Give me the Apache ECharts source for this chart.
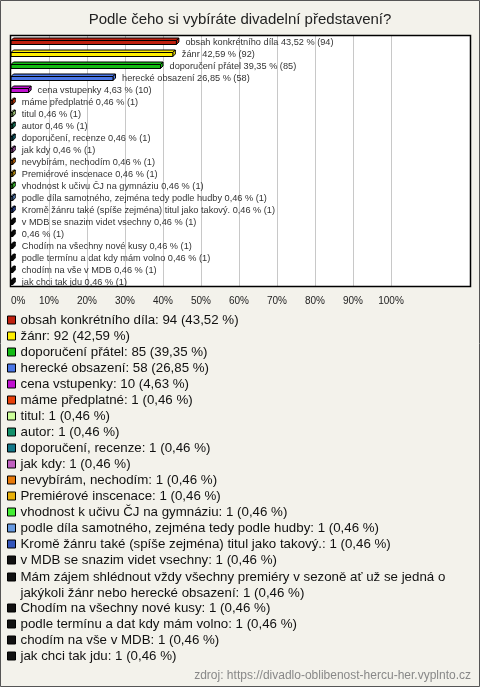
<!DOCTYPE html>
<html><head><meta charset="utf-8">
<script src="https://cdn.jsdelivr.net/npm/echarts@6/dist/echarts.min.js"></script>
<style>html,body{margin:0;padding:0;background:#f3f2eb}#c{width:480px;height:687px}</style>
</head><body><div id="c"></div>
<script>
const chartTitle = 'Podle čeho si vybíráte divadelní představení?';
const sourceText = 'zdroj: https://divadlo-oblibenost-hercu-her.vyplnto.cz';
const categories = [
  'obsah konkrétního díla',
  'žánr',
  'doporučení přátel',
  'herecké obsazení',
  'cena vstupenky',
  'máme předplatné',
  'titul',
  'autor',
  'doporučení, recenze',
  'jak kdy',
  'nevybírám, nechodím',
  'Premiérové inscenace',
  'vhodnost k učivu ČJ na gymnáziu',
  'podle díla samotného, zejména tedy podle hudby',
  'Kromě žánru také (spíše zejména) titul jako takový.',
  'v MDB se snazim videt vsechny',
  'Mám zájem shlédnout vždy všechny premiéry v sezoně ať už se jedná o jakýkoli žánr nebo herecké obsazení',
  'Chodím na všechny nové kusy',
  'podle termínu a dat kdy mám volno',
  'chodím na vše v MDB',
  'jak chci tak jdu'
];
const counts = [94, 92, 85, 58, 10, 1, 1, 1, 1, 1, 1, 1, 1, 1, 1, 1, 1, 1, 1, 1, 1];
const percents = [43.52, 42.59, 39.35, 26.85, 4.63, 0.46, 0.46, 0.46, 0.46, 0.46, 0.46, 0.46, 0.46, 0.46, 0.46, 0.46, 0.46, 0.46, 0.46, 0.46, 0.46];
const colors = ['#c0200f', '#ffee00', '#14bb14', '#4a76e6', '#c010d0', '#e8400a', '#ccff99', '#12906a', '#127788', '#c060c0', '#e87a0a', '#e8b00a', '#44ee33', '#6699e0', '#3355bb', '#111111', '#111111', '#111111', '#111111', '#111111', '#111111'];

const FONT = 'Liberation Sans, Arial, sans-serif';
const fmt = v => v.toFixed(2).replace('.', ',');
const plotName = n => n.length > 70 ? '' : n + ' ';
const wrap = (s, max) => {
  if (s.length <= max) return s;
  const cut = s.lastIndexOf(' ', max);
  return s.slice(0, cut) + '\n' + s.slice(cut + 1);
};

function renderItem(params, api) {
  const v = api.value(0), idx = api.value(1);
  const p0 = api.coord([0, idx]);
  const p1 = api.coord([v, idx]);
  const x0 = p0[0], x1 = p1[0], yc = p0[1];
  const d = 2.5, h = 4, top = yc - 0.5;
  const color = api.visual('color');
  const i = params.seriesIndex;
  const label = plotName(categories[i]) + fmt(percents[i]) + ' % (' + counts[i] + ')';
  const st = {fill: color, stroke: '#000', lineWidth: 1};
  return {type: 'group', children: [
    {type: 'polygon', shape: {points: [[x0, top], [x0 + d, top - d], [x1 + d, top - d], [x1, top]]}, style: st},
    {type: 'polygon', shape: {points: [[x1, top], [x1 + d, top - d], [x1 + d, top - d + h], [x1, top + h]]}, style: st},
    {type: 'rect', shape: {x: x0, y: top, width: x1 - x0, height: h}, style: st},
    {type: 'text', x: x1 + 9, y: yc + 1, style: {text: label, fill: '#333', font: '9.2px ' + FONT, verticalAlign: 'middle', align: 'left'}}
  ]};
}

const series = categories.map((name, i) => ({
  name: name,
  type: 'custom',
  renderItem: renderItem,
  itemStyle: {color: colors[i]},
  data: [[percents[i], i]],
  encode: {x: 0, y: 1},
  silent: true,
  animation: false
}));

const legendText = name => {
  const i = categories.indexOf(name);
  return wrap(name + ': ' + counts[i] + ' (' + fmt(percents[i]) + ' %)', 68);
};
const legendBase = {
  orient: 'vertical', left: 7, itemWidth: 8, itemHeight: 8, itemGap: 0, icon: 'rect',
  selectedMode: false, padding: 0,
  itemStyle: {borderColor: '#000', borderWidth: 1},
  textStyle: {fontSize: 13.3, color: '#111', lineHeight: 16, fontFamily: FONT},
  formatter: legendText
};

const chart = echarts.init(document.getElementById('c'), null, {renderer: 'canvas'});
chart.setOption({
  animation: false,
  backgroundColor: '#f3f2eb',
  title: [
    {text: chartTitle, left: 'center', top: 12, padding: 0, textStyle: {fontSize: 15, fontWeight: 'normal', color: '#222', fontFamily: FONT}},
    {text: sourceText, right: 9, top: 670, padding: 0, textStyle: {fontSize: 12, fontWeight: 'normal', color: '#888', fontFamily: FONT}}
  ],
  graphic: [
    {type: 'rect', z: -1, shape: {x: 10.5, y: 35.5, width: 460, height: 251}, style: {fill: '#fff'}},
    {type: 'rect', z: 100, shape: {x: 10.5, y: 35.5, width: 460, height: 251}, style: {fill: 'none', stroke: '#000', lineWidth: 1.5}},
    {type: 'rect', z: 100, shape: {x: 0.5, y: 0.5, width: 479, height: 686}, style: {fill: 'none', stroke: '#555', lineWidth: 1}}
  ],
  grid: {left: 11, top: 35, width: 380, height: 252, containLabel: false},
  xAxis: {
    type: 'value', min: 0, max: 100, interval: 10,
    axisLine: {show: false}, axisTick: {show: false},
    splitLine: {show: true, showMinLine: false, lineStyle: {color: '#c8c8c8', width: 1}},
    axisLabel: {formatter: '{value}%', fontSize: 10, color: '#222', fontFamily: FONT, margin: 9, alignMinLabel: 'left'}
  },
  yAxis: {
    type: 'category', inverse: true, data: categories,
    axisLine: {show: false}, axisTick: {show: false}, axisLabel: {show: false}, splitLine: {show: false}
  },
  legend: [
    Object.assign({}, legendBase, {top: 312, data: categories.slice(0, 16)}),
    Object.assign({}, legendBase, {top: 553, data: categories.slice(16, 17),
      formatter: name => '\n' + legendText(name)}),
    Object.assign({}, legendBase, {top: 600, data: categories.slice(17)})
  ],
  series: series
});
</script></body></html>
